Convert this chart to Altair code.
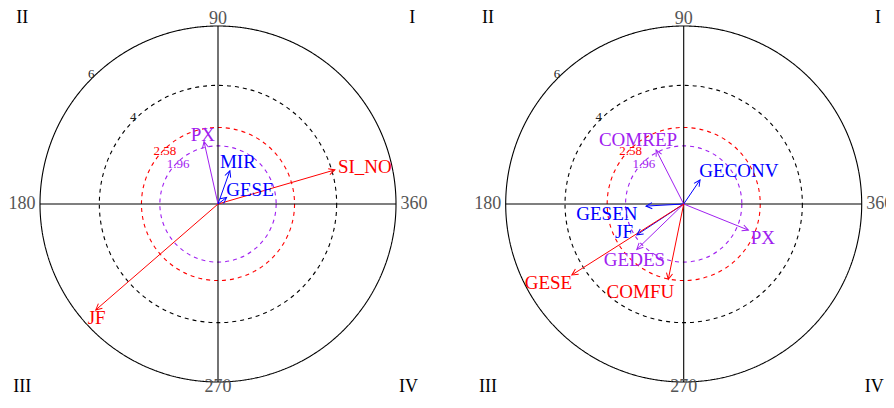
import math
import altair as alt
import pandas as pd

FONT = "Liberation Serif"
K = 178 / 6.0          # pixels per unit
H = 388
WL, WR = 438, 440
CXL, CXR = 210.0, 237.7
CY = 196.0

SIG_DOMAIN = ["p<0.01", "p<0.05", "ns"]
SIG_RANGE = ["#FF0000", "#A020F0", "#0000FF"]

# ---- left panel ----
left_labels = ["SI_NO", "JF", "PX", "MIR", "GESE"]
left_x = [3.94, -4.12, -0.47, 0.40, 0.29]
left_y = [1.15, -3.57, 2.10, 1.12, 0.22]
left_sig = ["p<0.01", "p<0.01", "p<0.05", "ns", "ns"]
left_lx = [4.95, -4.09, -0.51, 0.67, 1.08]
left_ly = [1.25, -3.84, 2.33, 1.40, 0.47]

# ---- right panel ----
right_labels = ["COMREP", "GECONV", "GESEN", "PX", "JF", "GEDES", "GESE", "COMFU"]
right_x = [-0.93, 0.55, -1.27, 2.18, -1.58, -1.58, -3.77, -0.52]
right_y = [1.82, 0.81, -0.07, -0.88, -1.04, -1.53, -2.39, -2.54]
right_sig = ["p<0.05", "ns", "ns", "p<0.05", "ns", "p<0.05", "p<0.01", "p<0.01"]
right_lx = [-1.54, 1.86, -2.59, 2.67, -2.01, -1.66, -4.56, -1.46]
right_ly = [2.17, 1.10, -0.35, -1.15, -0.96, -1.89, -2.66, -2.95]

# ---- rings ----
ring_values = [6, 4, 2.58, 1.96]
ring_labels = ["6", "4", "2.58", "1.96"]
ring_style = ["solid", "dashed", "dashed", "dashed"]
ring_colors = ["#000000", "#000000", "#FF0000", "#A020F0"]
ring_label_colors = ["#222222", "#222222", "#FF0000", "#A020F0"]
ring_lx = [-4.27, -2.86, -1.79, -1.34]
ring_ly = [4.38, 2.92, 1.80, 1.35]

# ---- angle and quadrant labels ----
angle_labels = ["90", "180", "270", "360"]
angle_x = [0.0, -6.15, 0.0, 6.15]
angle_y = [6.25, 0.0, -6.17, 0.0]

quad_labels = ["I", "II", "III", "IV"]
quad_x = [6.55, -6.6, -6.6, 6.42]
quad_y = [6.27, 6.27, -6.17, -6.17]

# axes lines
axis_x1 = [-6, 0]
axis_y1 = [0, -6]
axis_x2 = [6, 0]
axis_y2 = [0, 6]

HEAD = "M -1 -0.5 L 0 0 L -1 0.5"
sig_color = alt.Scale(domain=SIG_DOMAIN, range=SIG_RANGE)


def panel(labels, xs, ys, sig, lx, ly, width, cx):
    xsc = alt.Scale(domain=[-cx / K, (width - cx) / K], nice=False, zero=False)
    ysc = alt.Scale(domain=[-(H - CY) / K, CY / K], nice=False, zero=False)

    def X(f):
        return alt.X(f, type="quantitative", scale=xsc, axis=None)

    def Y(f):
        return alt.Y(f, type="quantitative", scale=ysc, axis=None)

    arrows = pd.DataFrame({
        "label": labels, "x": xs, "y": ys, "sig": sig, "lx": lx, "ly": ly,
    })
    arrows["ox"] = 0.0
    arrows["oy"] = 0.0
    arrows["rot"] = [(-math.degrees(math.atan2(b, a))) % 360 for a, b in zip(xs, ys)]

    rings = pd.DataFrame({
        "r": ring_values, "style": ring_style, "col": ring_colors,
        "lab": ring_labels, "lcol": ring_label_colors, "lx": ring_lx, "ly": ring_ly,
    })
    rings["cx"] = 0.0
    rings["cy"] = 0.0

    axes = pd.DataFrame({"x1": axis_x1, "y1": axis_y1, "x2": axis_x2, "y2": axis_y2})
    angles = pd.DataFrame({"t": angle_labels, "x": angle_x, "y": angle_y})
    quads = pd.DataFrame({"t": quad_labels, "x": quad_x, "y": quad_y})

    # circle radius r -> symbol area (2 r K)^2 via a pow(2) scale
    ring_layer = alt.Chart(rings).mark_point(
        shape="circle", filled=False, strokeWidth=1.1, opacity=1
    ).encode(
        x=X("cx"), y=Y("cy"),
        size=alt.Size("r:Q", scale=alt.Scale(type="pow", exponent=2, domain=[0, 6], range=[0, (12 * K) ** 2]), legend=None),
        stroke=alt.Stroke("col:N", scale=None),
        strokeDash=alt.StrokeDash("style:N", scale=alt.Scale(domain=["solid", "dashed"], range=[[1, 0], [4, 4]]), legend=None),
    )

    axis_layer = alt.Chart(axes).mark_rule(color="black", strokeWidth=1.1).encode(
        x=X("x1"), y=Y("y1"), x2="x2:Q", y2="y2:Q"
    )

    ring_text = alt.Chart(rings).mark_text(font=FONT, fontSize=13, baseline="middle", align="center").encode(
        x=X("lx"), y=Y("ly"), text="lab:N", color=alt.Color("lcol:N", scale=None)
    )

    ang_c = alt.Chart(angles).mark_text(font=FONT, fontSize=18, baseline="middle", color="#555555", clip=True).encode(
        x=X("x"), y=Y("y"), text="t:N").transform_filter(
        alt.FieldOneOfPredicate(field="t", oneOf=["90", "270"]))
    ang_r = alt.Chart(angles).mark_text(font=FONT, fontSize=18, baseline="middle", color="#555555", align="right", clip=True).encode(
        x=X("x"), y=Y("y"), text="t:N").transform_filter(alt.FieldEqualPredicate(field="t", equal="180"))
    ang_l = alt.Chart(angles).mark_text(font=FONT, fontSize=18, baseline="middle", color="#555555", align="left", clip=True).encode(
        x=X("x"), y=Y("y"), text="t:N").transform_filter(alt.FieldEqualPredicate(field="t", equal="360"))

    quad_layer = alt.Chart(quads).mark_text(font=FONT, fontSize=18, baseline="middle", color="black", clip=True).encode(
        x=X("x"), y=Y("y"), text="t:N")

    rule_layer = alt.Chart(arrows).mark_rule(strokeWidth=1).encode(
        x=X("ox"), y=Y("oy"), x2="x:Q", y2="y:Q",
        color=alt.Color("sig:N", scale=sig_color, legend=None),
    )
    head_layer = alt.Chart(arrows).mark_point(shape=HEAD, filled=False, size=150, strokeWidth=1, opacity=1).encode(
        x=X("x"), y=Y("y"), angle=alt.Angle("rot:Q", scale=None),
        color=alt.Color("sig:N", scale=sig_color, legend=None),
    )
    label_layer = alt.Chart(arrows).mark_text(font=FONT, fontSize=19, baseline="middle", align="center").encode(
        x=X("lx"), y=Y("ly"), text="label:N",
        color=alt.Color("sig:N", scale=sig_color, legend=None),
    )

    return alt.layer(
        ring_layer, axis_layer, ring_text, ang_c, ang_r, ang_l, quad_layer,
        rule_layer, head_layer, label_layer
    ).properties(width=width, height=H)


left = panel(left_labels, left_x, left_y, left_sig, left_lx, left_ly, WL, CXL)
right = panel(right_labels, right_x, right_y, right_sig, right_lx, right_ly, WR, CXR)

chart = alt.hconcat(left, right, spacing=0).properties(padding=0).configure_view(stroke=None)

chart.save("out.html", embed_options={"renderer": "svg", "actions": False})
